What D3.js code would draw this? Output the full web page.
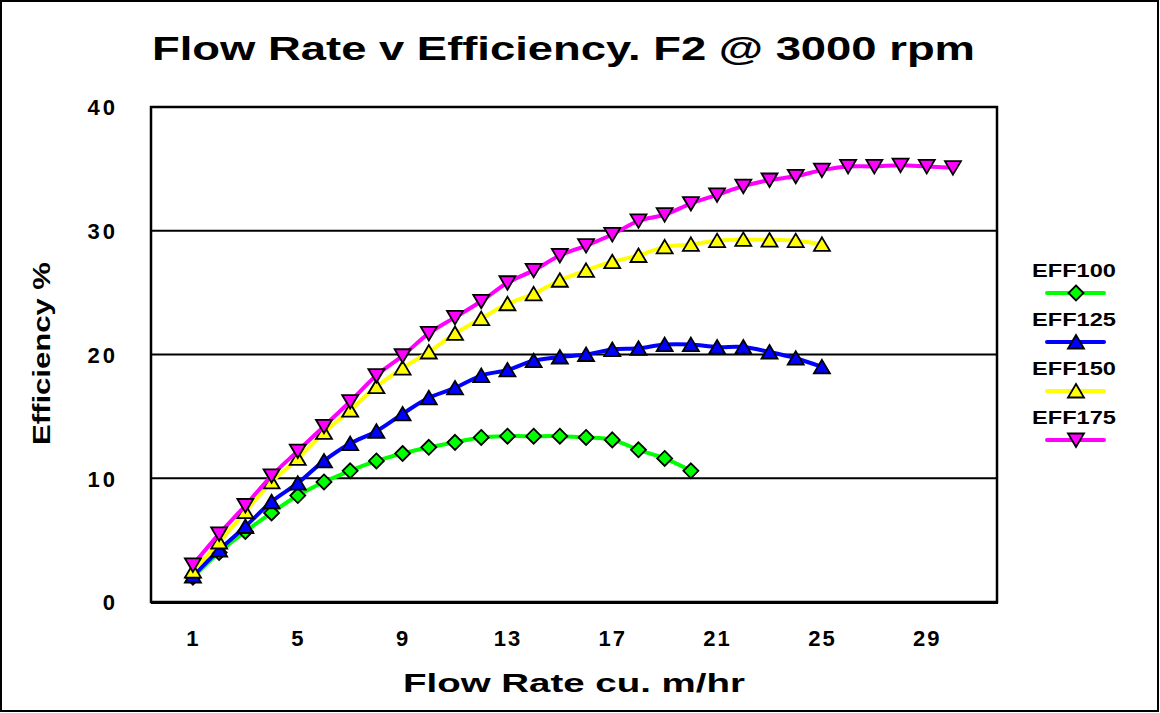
<!DOCTYPE html>
<html>
<head>
<meta charset="utf-8">
<script src="https://cdn.jsdelivr.net/npm/d3@7"></script>
<style>
	body { margin: 0; background: #fff; }
	svg text { font-family: Arial, "Liberation Sans", sans-serif; font-weight: bold; fill: #000; }
</style>
</head>
<body>
<svg id="chart" width="1160" height="713"></svg>
<script>
// values
const flow_rate = [1, 2, 3, 4, 5, 6, 7, 8, 9, 10, 11, 12, 13, 14, 15, 16, 17, 18, 19, 20,
	21, 22, 23, 24, 25, 26, 27, 28, 29, 30];

const eff100 = [2.0, 4.0, 5.7, 7.2, 8.6, 9.7, 10.6, 11.4, 12.0, 12.5, 12.9, 13.3, 13.4, 13.4,
	13.4, 13.3, 13.1, 12.3, 11.6, 10.6];
const eff125 = [2.1, 4.2, 6.1, 8.1, 9.6, 11.4, 12.8, 13.8, 15.2, 16.5, 17.3, 18.3, 18.75, 19.5,
	19.8, 20.0, 20.4, 20.5, 20.8, 20.8, 20.6, 20.6, 20.2, 19.7, 19.0];
const eff150 = [2.5, 4.85, 7.3, 9.7, 11.6, 13.7, 15.5, 17.4, 18.9, 20.2, 21.7, 22.9, 24.1, 24.9,
	26.0, 26.8, 27.5, 28.0, 28.7, 28.9, 29.2, 29.3, 29.25, 29.2, 28.9];
const eff175 = [3.0, 5.5, 7.8, 10.2, 12.2, 14.2, 16.2, 18.3, 19.9, 21.7, 23.0, 24.3, 25.8, 26.8,
	28.0, 28.8, 29.7, 30.8, 31.3, 32.2, 32.9, 33.6, 34.1, 34.4, 34.9, 35.2, 35.2, 35.3, 35.2, 35.1];

const series_names = ["EFF100", "EFF125", "EFF150", "EFF175"];
const x_ticks = [1, 5, 9, 13, 17, 21, 25, 29];
const y_ticks = [0, 10, 20, 30, 40];

const svg = d3.select("#chart");

const plot = {left: 151, right: 997, top: 107, bottom: 602};

const x = d3.scaleLinear().domain([-0.6, 31.68]).range([plot.left, plot.right]);
const y = d3.scaleLinear().domain([0, 40]).range([plot.bottom, plot.top]);

// marker shapes, centred on 0,0
const markers = {
	diamond: "M0,-7.5 L7.5,0 L0,7.5 L-7.5,0 Z",
	up: "M0,-7 L8,6.5 L-8,6.5 Z",
	down: "M0,7 L8,-6.5 L-8,-6.5 Z"
};

const series = [
	{name: series_names[0], values: eff100, color: "#00ff00", marker: markers.diamond},
	{name: series_names[1], values: eff125, color: "#0000ff", marker: markers.up},
	{name: series_names[2], values: eff150, color: "#ffff00", marker: markers.up},
	{name: series_names[3], values: eff175, color: "#ff00ff", marker: markers.down}
];

// outer frame
svg.append("rect")
	.attr("x", 1).attr("y", 1)
	.attr("width", 1157).attr("height", 710)
	.style("fill", "white")
	.style("stroke", "black")
	.style("stroke-width", 2);

// gridlines
svg.append("g")
	.selectAll("line")
	.data(y_ticks.filter(d => d > 0 && d < 40))
	.enter().append("line")
	.attr("x1", plot.left).attr("x2", plot.right)
	.attr("y1", d => y(d)).attr("y2", d => y(d))
	.style("stroke", "black")
	.style("stroke-width", 2);

// plot area border
svg.append("rect")
	.attr("x", plot.left).attr("y", plot.top)
	.attr("width", plot.right - plot.left).attr("height", plot.bottom - plot.top)
	.style("fill", "none")
	.style("stroke", "black")
	.style("stroke-width", 2.5);
svg.append("line")
	.attr("x1", plot.left).attr("x2", plot.right + 1)
	.attr("y1", plot.bottom + 1).attr("y2", plot.bottom + 1)
	.style("stroke", "black").style("stroke-width", 2);

// axes, without domain or tick lines
const x_axis = d3.axisBottom(x).tickValues(x_ticks).tickSize(0).tickPadding(0);
const y_axis = d3.axisLeft(y).tickValues(y_ticks).tickSize(0).tickPadding(0);

const x_g = svg.append("g")
	.attr("transform", "translate(0," + plot.bottom + ")")
	.call(x_axis);
x_g.select(".domain").remove();
x_g.selectAll("text")
	.attr("y", 44).attr("dy", 0)
	.attr("font-size", 22)
	.style("font-size", "22px")
	.style("letter-spacing", "2px");

const y_g = svg.append("g")
	.attr("transform", "translate(118,0)")
	.call(y_axis);
y_g.select(".domain").remove();
y_g.selectAll("text")
	.attr("dy", "0.36em")
	.attr("font-size", 22)
	.style("font-size", "22px")
	.style("letter-spacing", "3px");

// lines and markers
const line = d3.line()
	.x((d, i) => x(flow_rate[i]))
	.y(d => y(d))
	.curve(d3.curveCatmullRom.alpha(0.5));

series.forEach(s => {
	const g = svg.append("g");
	g.append("path")
		.attr("d", line(s.values))
		.style("fill", "none")
		.style("stroke", s.color)
		.style("stroke-width", 4)
		.style("stroke-linejoin", "round");
	g.selectAll(".marker")
		.data(s.values)
		.enter().append("path")
		.classed("marker", true)
		.attr("d", s.marker)
		.attr("transform", (d, i) => "translate(" + x(flow_rate[i]) + "," + y(d) + ")")
		.style("fill", s.color)
		.style("stroke", "black")
		.style("stroke-width", 1.8)
		.style("stroke-linejoin", "miter");
});

// titles
svg.append("text")
	.attr("x", 152).attr("y", 60)
	.attr("textLength", 823)
	.attr("lengthAdjust", "spacingAndGlyphs")
	.style("font-size", "33px")
	.text("Flow Rate v Efficiency. F2 @ 3000 rpm");

svg.append("text")
	.attr("x", 403).attr("y", 692)
	.attr("textLength", 342)
	.attr("lengthAdjust", "spacingAndGlyphs")
	.style("font-size", "26px")
	.text("Flow Rate cu. m/hr");

svg.append("text")
	.attr("transform", "translate(50,445) rotate(-90)")
	.attr("textLength", 183)
	.attr("lengthAdjust", "spacingAndGlyphs")
	.style("font-size", "23px")
	.text("Efficiency %");

// legend
const legend = svg.append("g").attr("transform", "translate(1032,277)");
const legend_item = legend.selectAll("g")
	.data(series)
	.enter().append("g")
	.attr("transform", (d, i) => "translate(0," + (i * 49) + ")");

legend_item.append("text")
	.attr("x", 0).attr("y", 0)
	.attr("textLength", 84)
	.attr("lengthAdjust", "spacingAndGlyphs")
	.style("font-size", "18px")
	.text(d => d.name);

legend_item.append("line")
	.attr("x1", 15).attr("x2", 72)
	.attr("y1", 16).attr("y2", 16)
	.style("stroke", d => d.color)
	.style("stroke-width", 4)
	.style("stroke-linecap", "round");

legend_item.append("path")
	.attr("d", d => d.marker)
	.attr("transform", "translate(44,16)")
	.style("fill", d => d.color)
	.style("stroke", "black")
	.style("stroke-width", 1.8);
</script>
</body>
</html>
